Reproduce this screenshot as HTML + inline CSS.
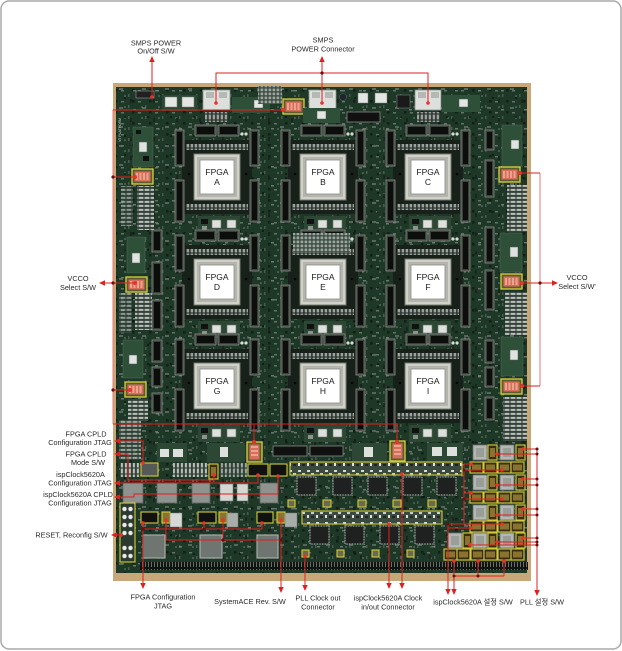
<!DOCTYPE html>
<html><head><meta charset="utf-8"><title>board</title>
<style>
html,body{margin:0;padding:0;background:#fff;width:622px;height:651px;overflow:hidden}
svg{display:block}
text{font-family:"Liberation Sans","Noto Sans CJK KR",sans-serif}
</style></head><body>
<svg width="622" height="651" viewBox="0 0 622 651" xmlns="http://www.w3.org/2000/svg">
<defs>
<pattern id="smd1" width="17" height="11" patternUnits="userSpaceOnUse">
<rect x="2" y="2" width="3" height="1.5" fill="#74807a"/>
<rect x="9" y="6" width="1.5" height="3" fill="#56625a"/>
<rect x="13" y="1" width="2.5" height="2.5" fill="#121713"/>
<circle cx="6" cy="8" r=".8" fill="#8e978f"/>
</pattern>
<pattern id="smd2" width="23" height="19" patternUnits="userSpaceOnUse">
<rect x="4" y="12" width="4" height="2" fill="#66716a"/>
<rect x="15" y="4" width="2" height="4" fill="#1a201b"/>
<rect x="18" y="14" width="3" height="1.5" fill="#7d887f"/>
<circle cx="10" cy="3" r="1" fill="#0b0e0c"/>
</pattern>
<pattern id="pins" width="4" height="6" patternUnits="userSpaceOnUse">
<rect width="4" height="6" fill="#2e3430"/>
<rect x=".7" y=".6" width="2.4" height="4.8" fill="#9ba39d"/>
</pattern>
<pattern id="hdr" width="3" height="8" patternUnits="userSpaceOnUse">
<rect width="3" height="8" fill="#101310"/>
<rect x="1" y="1" width="1" height="6" fill="#6a6e69"/>
</pattern>
<pattern id="resh" width="6" height="4" patternUnits="userSpaceOnUse">
<rect width="6" height="4" fill="#34423a"/>
<rect x=".6" y=".9" width="4.8" height="2" fill="#b9c0ba"/>
</pattern>
<pattern id="resv" width="4" height="6" patternUnits="userSpaceOnUse">
<rect width="4" height="6" fill="#34423a"/>
<rect x=".9" y=".6" width="2" height="4.8" fill="#b9c0ba"/>
</pattern>
<pattern id="row" width="9" height="13" patternUnits="userSpaceOnUse">
<rect width="9" height="13" fill="#3a4a3f"/>
<rect x="1" y="2" width="3" height="2" fill="#d5d9d5"/>
<rect x="5" y="5" width="3" height="2" fill="#c9cec9"/>
<rect x="1" y="8" width="2" height="3" fill="#e0e3e0"/>
<rect x="5" y="9" width="3" height="2" fill="#222"/>
</pattern>
<pattern id="grid" width="4" height="4" patternUnits="userSpaceOnUse">
<rect width="4" height="4" fill="#3c4d42"/>
<rect x=".6" y=".6" width="2.6" height="2.6" fill="#9ea8a1"/>
</pattern>
<g id="cell">
<rect x="-12" y="-14" width="70" height="74" fill="#17211a"/>
<rect x="-8" y="-10" width="62" height="6" fill="url(#pins)"/>
<rect x="-8" y="50" width="62" height="6" fill="url(#pins)"/>
<rect x="-19" y="-24" width="9" height="36" fill="#3b3f3b" stroke="#878c86" stroke-width=".8"/>
<rect x="-17" y="-22" width="5" height="32" fill="#0c0e0c"/>
<rect x="-19" y="26" width="9" height="42" fill="#3b3f3b" stroke="#878c86" stroke-width=".8"/>
<rect x="-17" y="28" width="5" height="38" fill="#0c0e0c"/>
<rect x="56" y="-24" width="9" height="36" fill="#3b3f3b" stroke="#878c86" stroke-width=".8"/>
<rect x="58" y="-22" width="5" height="32" fill="#0c0e0c"/>
<rect x="56" y="26" width="9" height="42" fill="#3b3f3b" stroke="#878c86" stroke-width=".8"/>
<rect x="58" y="28" width="5" height="38" fill="#0c0e0c"/>
<rect x="1" y="-29" width="21" height="11" fill="#3b3f3b" stroke="#878c86" stroke-width=".8"/>
<rect x="3" y="-27" width="17" height="7" fill="#0c0e0c"/>
<rect x="24" y="-29" width="21" height="11" fill="#3b3f3b" stroke="#878c86" stroke-width=".8"/>
<rect x="26" y="-27" width="17" height="7" fill="#0c0e0c"/>
<rect x="4" y="62" width="42" height="17" fill="#2c4834"/>
<rect x="18" y="66" width="9" height="8" fill="#dde0dc" stroke="#6f736e" stroke-width=".6"/>
<rect x="33" y="66" width="9" height="8" fill="#dde0dc" stroke="#6f736e" stroke-width=".6"/>
<rect x="7" y="65" width="7" height="5" fill="#111"/>
<rect x="8" y="72" width="5" height="4" fill="#8d948f"/>
<circle cx="48" cy="-20" r="1.6" fill="#d9dcd9"/>
<circle cx="52" cy="-20" r="1.6" fill="#d9dcd9"/>
<circle cx="-5" cy="20" r="1.3" fill="#050605"/>
<circle cx="52" cy="20" r="1.3" fill="#050605"/>
<rect x="0" y="0" width="46" height="46" fill="#d0d2c9" stroke="#76796f" stroke-width="1"/>
<rect x="3" y="3" width="40" height="40" fill="#b4b6ad"/>
<rect x="6" y="6" width="34" height="34" fill="#fff" stroke="#8a8c86" stroke-width=".8"/>
</g>
<g id="dip">
<rect x="0" y="0" width="21" height="15" fill="#5d5a30" stroke="#d8d23e" stroke-width="1.3"/>
<rect x="2.5" y="2.5" width="16" height="10" fill="#d4705c"/>
<rect x="4" y="4" width="2" height="7" fill="#eba390"/>
<rect x="7.5" y="4" width="2" height="7" fill="#eba390"/>
<rect x="11" y="4" width="2" height="7" fill="#eba390"/>
<rect x="14.5" y="4" width="2" height="7" fill="#eba390"/>
</g>
<g id="dipv">
<rect x="0" y="0" width="15" height="20" fill="#5d5a30" stroke="#d8d23e" stroke-width="1.3"/>
<rect x="2.5" y="2.5" width="10" height="15" fill="#d4705c"/>
<rect x="4" y="4" width="7" height="2" fill="#eba390"/>
<rect x="4" y="8" width="7" height="2" fill="#eba390"/>
<rect x="4" y="12" width="7" height="2" fill="#eba390"/>
</g>
<g id="gchip"><rect x="0" y="0" width="14" height="15" fill="#b3b6b2" stroke="#6e716d" stroke-width=".8"/><rect x="3" y="3" width="8" height="9" fill="#9a9e99"/></g>
<g id="ybox"><rect x="0" y="0" width="9" height="15" fill="#3a2e12" stroke="#d2cc3a" stroke-width="1.1"/><rect x="2" y="3" width="5" height="9" fill="#8a7330"/></g>
<g id="gbox"><rect x="0" y="0" width="13" height="11" fill="#3a2e12" stroke="#d2cc3a" stroke-width="1.1"/><rect x="2" y="2.5" width="9" height="6" fill="#8a7330"/></g>
<g id="qfp"><rect x="0" y="0" width="19" height="18" fill="#1e211f" stroke="#9aa09b" stroke-width="1.6" stroke-dasharray=".8,.8"/></g>
</defs>

<rect x="1" y="1" width="620" height="648" rx="8" fill="#fff" stroke="#a9a9a9" stroke-width="1.5"/>

<rect x="113" y="83" width="418" height="498" fill="#c8a878"/>
<rect x="116" y="87" width="411" height="486" fill="#1d3826"/>
<rect x="116" y="87" width="411" height="486" fill="url(#smd1)" opacity=".8"/>
<rect x="116" y="87" width="411" height="486" fill="url(#smd2)" opacity=".8"/>
<text transform="translate(121,142) rotate(-90)" font-size="3.5" fill="#c9d2cb">V5 PLATFORM</text>

<use href="#cell" x="194" y="154"/>
<use href="#cell" x="300" y="154"/>
<use href="#cell" x="405" y="154"/>
<use href="#cell" x="194" y="259"/>
<use href="#cell" x="300" y="259"/>
<use href="#cell" x="405" y="259"/>
<use href="#cell" x="194" y="363"/>
<use href="#cell" x="300" y="363"/>
<use href="#cell" x="405" y="363"/>
<rect x="293" y="233" width="57" height="20" fill="url(#grid)"/>

<g font-size="8.5" fill="#1a1a1a" text-anchor="middle">
<text x="217" y="175">FPGA</text><text x="217" y="185">A</text>
<text x="323" y="175">FPGA</text><text x="323" y="185">B</text>
<text x="428" y="175">FPGA</text><text x="428" y="185">C</text>
<text x="217" y="280">FPGA</text><text x="217" y="290">D</text>
<text x="323" y="280">FPGA</text><text x="323" y="290">E</text>
<text x="428" y="280">FPGA</text><text x="428" y="290">F</text>
<text x="217" y="384">FPGA</text><text x="217" y="394">G</text>
<text x="323" y="384">FPGA</text><text x="323" y="394">H</text>
<text x="428" y="384">FPGA</text><text x="428" y="394">I</text>
</g>

<rect x="133" y="127" width="20" height="40" fill="#2f5038" stroke="#4e6b55" stroke-width=".5"/>
<rect x="139" y="142" width="8" height="10" fill="#dfe3df" stroke="#555" stroke-width=".5"/>
<rect x="136" y="130" width="5" height="4" fill="#111"/>
<rect x="143" y="156" width="6" height="5" fill="#111"/>
<use href="#dip" x="132" y="169"/>
<rect x="137" y="186" width="17" height="44" fill="url(#resh)"/>
<rect x="121" y="186" width="12" height="40" fill="url(#resh)" opacity=".7"/>
<rect x="127" y="237" width="18" height="36" fill="#2f5038" stroke="#4e6b55" stroke-width=".5"/>
<rect x="132" y="253" width="8" height="10" fill="#dfe3df" stroke="#555" stroke-width=".5"/>
<use href="#dip" x="126" y="277"/>
<rect x="135" y="293" width="17" height="37" fill="url(#resh)"/>
<rect x="119" y="293" width="13" height="40" fill="url(#resh)" opacity=".7"/>
<rect x="123" y="340" width="20" height="38" fill="#2f5038" stroke="#4e6b55" stroke-width=".5"/>
<rect x="129" y="355" width="8" height="9" fill="#dfe3df" stroke="#555" stroke-width=".5"/>
<use href="#dip" x="125" y="382"/>
<rect x="128" y="399" width="20" height="22" fill="url(#resh)"/>
<rect x="119" y="420" width="22" height="40" fill="url(#resh)" opacity=".8"/>
<g fill="#3b3f3b" stroke="#878c86" stroke-width=".8">
<rect x="152" y="230" width="10" height="22"/><rect x="152" y="262" width="10" height="32"/><rect x="152" y="300" width="10" height="30"/>
<rect x="152" y="340" width="10" height="22"/><rect x="152" y="367" width="10" height="20"/><rect x="152" y="393" width="10" height="20"/>
</g>
<g fill="#0c0e0c"><rect x="154" y="232" width="6" height="18"/><rect x="154" y="264" width="6" height="28"/><rect x="154" y="302" width="6" height="26"/><rect x="154" y="342" width="6" height="18"/><rect x="154" y="369" width="6" height="16"/><rect x="154" y="395" width="6" height="16"/></g>

<g fill="#3b3f3b" stroke="#878c86" stroke-width=".8">
<rect x="485" y="130" width="9" height="20"/><rect x="485" y="160" width="9" height="37"/><rect x="485" y="227" width="9" height="36"/><rect x="485" y="270" width="9" height="40"/>
<rect x="485" y="340" width="9" height="23"/><rect x="485" y="367" width="9" height="20"/><rect x="485" y="397" width="9" height="23"/>
</g>
<g fill="#0c0e0c"><rect x="487" y="132" width="5" height="16"/><rect x="487" y="162" width="5" height="33"/><rect x="487" y="229" width="5" height="32"/><rect x="487" y="272" width="5" height="36"/><rect x="487" y="342" width="5" height="19"/><rect x="487" y="369" width="5" height="16"/><rect x="487" y="399" width="5" height="19"/></g>
<rect x="502" y="125" width="20" height="42" fill="#2f5038" stroke="#4e6b55" stroke-width=".5"/>
<rect x="511" y="140" width="8" height="9" fill="#dfe3df" stroke="#555" stroke-width=".5"/>
<use href="#dip" x="499" y="167"/>
<rect x="507" y="185" width="20" height="47" fill="url(#resh)"/>
<rect x="500" y="233" width="22" height="39" fill="#2f5038" stroke="#4e6b55" stroke-width=".5"/>
<rect x="510" y="247" width="8" height="10" fill="#dfe3df" stroke="#555" stroke-width=".5"/>
<use href="#dip" x="501" y="274"/>
<rect x="505" y="292" width="22" height="43" fill="url(#resh)"/>
<rect x="501" y="337" width="22" height="39" fill="#2f5038" stroke="#4e6b55" stroke-width=".5"/>
<rect x="510" y="350" width="8" height="10" fill="#dfe3df" stroke="#555" stroke-width=".5"/>
<use href="#dip" x="501" y="379"/>
<rect x="503" y="397" width="24" height="44" fill="url(#resh)"/>

<rect x="136" y="91" width="18" height="7" fill="#202020" stroke="#9a9a9a" stroke-width=".6"/>
<rect x="162" y="95" width="35" height="16" fill="#2c4834"/>
<rect x="165" y="97" width="12" height="10" fill="#e3e6e3" stroke="#777" stroke-width=".5"/>
<rect x="182" y="97" width="12" height="10" fill="#e3e6e3" stroke="#777" stroke-width=".5"/>
<g fill="#dcdfdb" stroke="#8b8f8a" stroke-width=".8">
<rect x="203" y="90" width="27" height="20"/><rect x="309" y="90" width="27" height="20"/><rect x="415" y="90" width="26" height="20"/>
</g>
<g fill="#b5b9b4"><rect x="206" y="92" width="8" height="6"/><rect x="219" y="92" width="8" height="6"/><rect x="312" y="92" width="8" height="6"/><rect x="325" y="92" width="8" height="6"/><rect x="418" y="92" width="8" height="6"/><rect x="431" y="92" width="8" height="6"/></g>
<rect x="205" y="112" width="23" height="10" fill="url(#pins)"/>
<rect x="311" y="112" width="23" height="10" fill="url(#pins)"/>
<rect x="417" y="112" width="23" height="10" fill="url(#pins)"/>
<rect x="232" y="97" width="38" height="16" fill="#2f5038"/>
<rect x="254" y="100" width="9" height="8" fill="#e3e6e3" stroke="#555" stroke-width=".5"/>
<rect x="258" y="86" width="24" height="18" fill="url(#grid)"/>
<use href="#dip" x="283" y="99"/>
<rect x="303" y="108" width="37" height="15" fill="#2f5038"/>
<rect x="317" y="111" width="9" height="8" fill="#e3e6e3" stroke="#555" stroke-width=".5"/>
<rect x="347" y="112" width="33" height="10" fill="#111" stroke="#888" stroke-width=".8"/>
<rect x="358" y="93" width="10" height="10" fill="#e3e6e3" stroke="#777" stroke-width=".5"/>
<rect x="375" y="93" width="12" height="10" fill="#e3e6e3" stroke="#777" stroke-width=".5"/>
<circle cx="343" cy="97" r="3.5" fill="#1c2430" stroke="#666" stroke-width=".5"/>
<rect x="397" y="95" width="13" height="13" fill="#1a1a1a" stroke="#777" stroke-width=".6"/>
<rect x="442" y="95" width="38" height="17" fill="#2f5038"/>
<rect x="459" y="99" width="9" height="8" fill="#e3e6e3" stroke="#555" stroke-width=".5"/>

<rect x="157" y="443" width="30" height="19" fill="#2c4834"/>
<rect x="160" y="449" width="9" height="8" fill="#dde0dc"/><rect x="173" y="449" width="10" height="8" fill="#dde0dc"/>
<rect x="207" y="443" width="38" height="19" fill="#2c4834"/>
<rect x="220" y="447" width="8" height="10" fill="#dde0dc"/>
<use href="#dipv" x="247" y="442"/>
<rect x="273" y="446" width="34" height="10" fill="#111" stroke="#888" stroke-width=".8"/>
<rect x="310" y="446" width="33" height="10" fill="#111" stroke="#888" stroke-width=".8"/>
<rect x="352" y="443" width="35" height="19" fill="#2c4834"/>
<rect x="364" y="447" width="9" height="10" fill="#dde0dc"/>
<use href="#dipv" x="390" y="441"/>
<rect x="427" y="443" width="36" height="19" fill="#2c4834"/>
<rect x="432" y="447" width="10" height="9" fill="#dde0dc"/><rect x="447" y="447" width="10" height="9" fill="#dde0dc"/>

<rect x="120" y="463" width="20" height="14" fill="url(#resv)"/>
<rect x="173" y="463" width="34" height="14" fill="url(#resv)"/>
<rect x="220" y="463" width="27" height="14" fill="url(#resv)" opacity=".8"/>
<rect x="141" y="463" width="17" height="13" fill="#555a56" stroke="#d2cc3a" stroke-width="1.1"/>
<use href="#ybox" x="209" y="464"/>
<rect x="248" y="464" width="20" height="12" fill="#111" stroke="#d2cc3a" stroke-width="1.1"/>
<rect x="270" y="464" width="17" height="12" fill="#111" stroke="#d2cc3a" stroke-width="1.1"/>
<rect x="290" y="462" width="172" height="13" fill="url(#row)" stroke="#d2cc3a" stroke-width="1.1"/>

<g fill="#8e9390" stroke="#5d625e" stroke-width=".8">
<rect x="123" y="483" width="20" height="20"/><rect x="157" y="483" width="20" height="20"/><rect x="192" y="483" width="18" height="20"/><rect x="260" y="483" width="18" height="20"/>
</g>
<rect x="220" y="484" width="13" height="17" fill="#d4d7d3" stroke="#777" stroke-width=".6"/>
<rect x="237" y="484" width="11" height="17" fill="#d4d7d3" stroke="#777" stroke-width=".6"/>
<use href="#qfp" x="297" y="477"/><use href="#qfp" x="333" y="477"/><use href="#qfp" x="368" y="477"/><use href="#qfp" x="403" y="477"/><use href="#qfp" x="437" y="477"/>
<g fill="#6b6a50" stroke="#d2cc3a" stroke-width="1.1">
<rect x="288" y="500" width="7" height="7"/><rect x="323" y="500" width="8" height="7"/><rect x="358" y="500" width="8" height="7"/><rect x="393" y="500" width="8" height="7"/><rect x="428" y="500" width="8" height="7"/>
<rect x="302" y="550" width="7" height="7"/><rect x="337" y="550" width="7" height="7"/><rect x="372" y="550" width="7" height="7"/><rect x="407" y="550" width="7" height="7"/>
</g>

<rect x="120" y="503" width="15" height="59" fill="#2a3a2e" stroke="#d2cc3a" stroke-width="1.1"/>
<g fill="#e9ece9" stroke="#555" stroke-width=".6">
<circle cx="124.5" cy="509" r="2.4"/><circle cx="130.5" cy="509" r="2.4"/>
<circle cx="124.5" cy="517" r="2.4"/><circle cx="130.5" cy="517" r="2.4"/>
<circle cx="124.5" cy="525" r="2.4"/><circle cx="130.5" cy="525" r="2.4"/>
<circle cx="124.5" cy="533" r="2.4"/><circle cx="130.5" cy="533" r="2.4"/>
<circle cx="124.5" cy="548" r="2.4"/><circle cx="130.5" cy="548" r="2.4"/>
<circle cx="124.5" cy="556" r="2.4"/><circle cx="130.5" cy="556" r="2.4"/>
</g>
<g fill="#111" stroke="#d2cc3a" stroke-width="1.1">
<rect x="141" y="512" width="17" height="11"/><rect x="198" y="512" width="18" height="11"/><rect x="257" y="512" width="16" height="11"/>
</g>
<g fill="#8a7330" stroke="#d2cc3a" stroke-width="1.1">
<rect x="162" y="512" width="8" height="11"/><rect x="219" y="512" width="8" height="11"/><rect x="277" y="512" width="8" height="11"/>
</g>
<rect x="170" y="513" width="12" height="14" fill="#d6d9d6" stroke="#777" stroke-width=".5"/>
<rect x="227" y="513" width="11" height="14" fill="#a9ada9" stroke="#777" stroke-width=".5"/>
<rect x="285" y="513" width="12" height="14" fill="#a9ada9" stroke="#777" stroke-width=".5"/>
<rect x="302" y="511" width="140" height="13" fill="url(#row)" stroke="#d2cc3a" stroke-width="1.1"/>
<use href="#qfp" x="310" y="526"/><use href="#qfp" x="345" y="526"/><use href="#qfp" x="380" y="526"/><use href="#qfp" x="415" y="526"/>
<g fill="#6f7571" stroke="#a6aba7" stroke-width="1.2">
<rect x="143" y="535" width="22" height="23"/><rect x="200" y="535" width="22" height="23"/><rect x="257" y="535" width="21" height="23"/>
</g>
<rect x="140" y="562" width="388" height="8" fill="url(#hdr)"/>

<g>
<use href="#gchip" x="473" y="445"/><use href="#gchip" x="500" y="445"/><use href="#ybox" x="488" y="445"/><use href="#ybox" x="516" y="445"/>
<use href="#gbox" x="470" y="462"/><use href="#gbox" x="484" y="462"/><use href="#gbox" x="498" y="462"/><use href="#gbox" x="511" y="462"/>
<use href="#gchip" x="473" y="475"/><use href="#gchip" x="500" y="475"/><use href="#ybox" x="488" y="475"/><use href="#ybox" x="516" y="475"/>
<use href="#gbox" x="470" y="492"/><use href="#gbox" x="484" y="492"/><use href="#gbox" x="498" y="492"/><use href="#gbox" x="511" y="492"/>
<use href="#gchip" x="473" y="505"/><use href="#gchip" x="500" y="505"/><use href="#ybox" x="488" y="505"/><use href="#ybox" x="516" y="505"/>
<use href="#gbox" x="470" y="521"/><use href="#gbox" x="484" y="521"/><use href="#gbox" x="498" y="521"/><use href="#gbox" x="511" y="521"/>
<use href="#gchip" x="448" y="533"/><use href="#ybox" x="463" y="533"/><use href="#gchip" x="473" y="533"/><use href="#ybox" x="488" y="533"/><use href="#gchip" x="500" y="533"/><use href="#ybox" x="516" y="533"/>
<use href="#gbox" x="444" y="549"/><use href="#gbox" x="457" y="549"/><use href="#gbox" x="471" y="549"/><use href="#gbox" x="484" y="549"/><use href="#gbox" x="498" y="549"/><use href="#gbox" x="511" y="549"/>
</g>

<g fill="none" stroke="#e21f1f" stroke-width="1">
<polyline points="113,424 113,110" stroke="#ee7777"/>
<polyline points="540,173 540,386" stroke="#ee7777"/>
<polyline points="152,97 152,61"/>
<polyline points="322,103 322,61"/>
<polyline points="216,103 216,73 428,73 428,103"/>
<polyline points="113,110 283,110"/>
<polyline points="113,424 397,424 397,442"/>
<polyline points="254,424 254,442"/>
<polyline points="104,283 135,283"/>
<polyline points="113,177 135,177"/>
<polyline points="113,390 130,390"/>
<polyline points="520,173 540,173"/>
<polyline points="522,386 540,386"/>
<polyline points="522,283 553,283"/>
<polyline points="120,441 143,441 143,463"/>
<polyline points="120,454 128,454 128,480 214,480 214,475"/>
<polyline points="120,483 258,483 258,475"/>
<polyline points="120,497 134,497 134,494 278,494 278,476"/>
<polyline points="117,535 121,535"/>
<polyline points="143,523 143,583"/>
<polyline points="143,529 262,529"/>
<polyline points="204,523 204,529"/><polyline points="262,523 262,529"/>
<polyline points="166,520 166,540 281,540 281,587"/>
<polyline points="223,520 223,540"/><polyline points="281,520 281,540"/>
<polyline points="305,556 305,585"/>
<polyline points="389,524 389,583"/>
<polyline points="402,474 402,583"/>
<polyline points="464,464 464,524"/>
<polyline points="464,464 471,464"/><polyline points="464,470 502,470"/>
<polyline points="464,493 471,493"/><polyline points="464,499 502,499"/>
<polyline points="448,589 448,524 502,524"/><polyline points="448,528 471,528"/>
<polyline points="454,589 454,561"/><polyline points="454,576 504,576"/>
<polyline points="478,561 478,576"/><polyline points="504,561 504,576"/>
<polyline points="537,449 537,590"/>
<polyline points="523,449 537,449"/><polyline points="497,454 537,454"/>
<polyline points="523,479 537,479"/><polyline points="497,485 537,485"/>
<polyline points="523,509 537,509"/><polyline points="497,515 537,515"/>
<polyline points="523,538 537,538"/><polyline points="497,542 537,542"/><polyline points="470,545 537,545"/>
</g>
<g fill="#e21f1f">
<polygon points="152,56 149.3,62 154.7,62"/>
<polygon points="322,56 319.3,62 324.7,62"/>
<polygon points="99,283 105,280.3 105,285.7"/>
<polygon points="558,283 552,280.3 552,285.7"/>
<polygon points="114,441 120,438.3 120,443.7"/>
<polygon points="114,454 120,451.3 120,456.7"/>
<polygon points="114,483 120,480.3 120,485.7"/>
<polygon points="114,497 120,494.3 120,499.7"/>
<polygon points="111,535 117,532.3 117,537.7"/>
<polygon points="143,589 140.3,583 145.7,583"/>
<polygon points="281,593 278.3,587 283.7,587"/>
<polygon points="305,591 302.3,585 307.7,585"/>
<polygon points="389,589 386.3,583 391.7,583"/>
<polygon points="402,589 399.3,583 404.7,583"/>
<polygon points="448,595 445.3,589 450.7,589"/>
<polygon points="454,595 451.3,589 456.7,589"/>
<polygon points="537,596 534.3,590 539.7,590"/>
</g>
<g fill="#e8322a">
<circle cx="152" cy="97" r="1.8"/><circle cx="216" cy="103" r="1.8"/><circle cx="322" cy="103" r="1.8"/><circle cx="428" cy="103" r="1.8"/>
<circle cx="283" cy="110" r="2"/><circle cx="254" cy="442" r="2"/><circle cx="397" cy="442" r="2"/>
<circle cx="135" cy="177" r="2"/><circle cx="135" cy="283" r="2"/><circle cx="130" cy="390" r="2"/>
<circle cx="520" cy="173" r="2"/><circle cx="522" cy="283" r="2"/><circle cx="522" cy="386" r="2"/>
<circle cx="143" cy="463" r="1.8"/><circle cx="214" cy="475" r="1.8"/><circle cx="258" cy="475" r="1.8"/><circle cx="278" cy="476" r="1.8"/>
<circle cx="121" cy="535" r="1.8"/>
<circle cx="143" cy="523" r="1.8"/><circle cx="204" cy="523" r="1.8"/><circle cx="262" cy="523" r="1.8"/>
<circle cx="166" cy="520" r="1.8"/><circle cx="223" cy="520" r="1.8"/><circle cx="281" cy="520" r="1.8"/>
<circle cx="305" cy="556" r="1.8"/><circle cx="389" cy="524" r="1.8"/><circle cx="402" cy="474" r="1.8"/>
<circle cx="471" cy="464" r="1.8"/><circle cx="502" cy="470" r="1.8"/><circle cx="471" cy="493" r="1.8"/><circle cx="502" cy="499" r="1.8"/>
<circle cx="502" cy="524" r="1.8"/><circle cx="471" cy="528" r="1.8"/>
<circle cx="454" cy="561" r="1.8"/><circle cx="478" cy="561" r="1.8"/><circle cx="504" cy="561" r="1.8"/>
<circle cx="523" cy="449" r="1.8"/><circle cx="497" cy="454" r="1.8"/><circle cx="523" cy="479" r="1.8"/><circle cx="497" cy="485" r="1.8"/>
<circle cx="523" cy="509" r="1.8"/><circle cx="497" cy="515" r="1.8"/><circle cx="523" cy="538" r="1.8"/><circle cx="497" cy="542" r="1.8"/><circle cx="470" cy="545" r="1.8"/>
</g>
<g fill="#6b0d0d">
<circle cx="322" cy="73" r="1.6"/><circle cx="113" cy="177" r="1.6"/><circle cx="113" cy="283" r="1.6"/><circle cx="113" cy="390" r="1.6"/>
<circle cx="540" cy="283" r="1.6"/><circle cx="143" cy="529" r="1.6"/><circle cx="204" cy="529" r="1.6"/><circle cx="223" cy="540" r="1.6"/><circle cx="281" cy="540" r="1.6"/>
<circle cx="464" cy="470" r="1.5"/><circle cx="464" cy="499" r="1.5"/><circle cx="448" cy="524" r="1.5"/>
<circle cx="478" cy="576" r="1.5"/><circle cx="454" cy="576" r="1.5"/>
<circle cx="537" cy="449" r="1.5"/><circle cx="537" cy="454" r="1.5"/><circle cx="537" cy="479" r="1.5"/><circle cx="537" cy="485" r="1.5"/>
<circle cx="537" cy="509" r="1.5"/><circle cx="537" cy="515" r="1.5"/><circle cx="537" cy="538" r="1.5"/><circle cx="537" cy="542" r="1.5"/><circle cx="537" cy="545" r="1.5"/>
</g>

<g font-size="7.3" fill="#2a2a2a" text-anchor="middle">
<text x="156" y="45.5">SMPS POWER</text><text x="156" y="53.5">On/Off S/W</text>
<text x="323" y="42.5">SMPS</text><text x="323" y="51.5">POWER Connector</text>
<text x="78" y="281">VCCO</text><text x="78" y="290">Select S/W</text>
<text x="577" y="280">VCCO</text><text x="577" y="289">Select S/W'</text>
<text x="86" y="436.5">FPGA CPLD</text><text x="80" y="445">Configuration JTAG</text>
<text x="86" y="456.5">FPGA CPLD</text><text x="88" y="465">Mode S/W</text>
<text x="80.5" y="477">ispClock5620A</text><text x="80" y="485.5">Configuration JTAG</text>
<text x="78" y="497">ispClock5620A CPLD</text><text x="80" y="505.5">Configuration JTAG</text>
<text x="71.5" y="537.5">RESET, Reconfig S/W</text>
<text x="163" y="599.5">FPGA Configuration</text><text x="163" y="608.5">JTAG</text>
<text x="250" y="604">SystemACE Rev. S/W</text>
<text x="318" y="600.5">PLL Clock out</text><text x="318" y="609.5">Connector</text>
<text x="388" y="600.5">ispClock5620A Clock</text><text x="388" y="609.5">in/out Connector</text>
<text x="473" y="604.5">ispClock5620A 설정 S/W</text>
<text x="542" y="604.5">PLL 설정 S/W</text>
</g>
</svg>
</body></html>
